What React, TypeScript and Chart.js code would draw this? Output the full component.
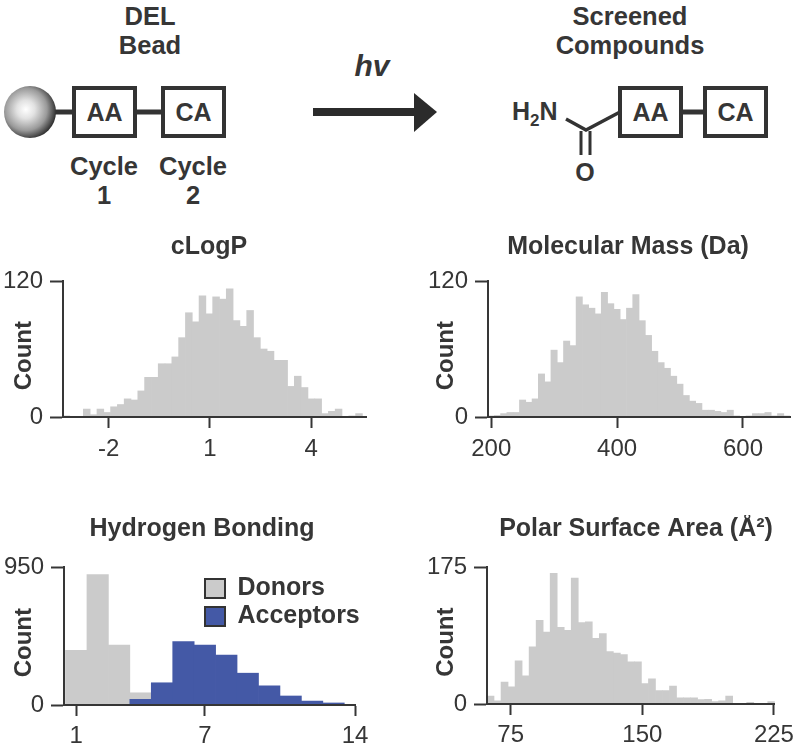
import React, { useEffect, useRef } from "react";
import { Chart, registerables } from "chart.js";

Chart.register(...registerables);

const FONT = '"Liberation Sans", Arial, sans-serif';
const INK = "#363636";
const GRAY = "#cbcbcb";
const BLUE = "#4459a6";

const cLogPCounts = [1, 0, 0, 7, 2, 7, 4, 9, 11, 16, 15, 23, 35, 35, 47, 47, 53, 70, 92, 84, 107, 91, 106, 104, 113, 85, 80, 94, 70, 60, 58, 50, 50, 27, 36, 26, 16, 16, 3, 5, 7, 0, 1, 3];
const massCounts = [1, 1.5, 3, 4, 4, 15, 13, 16, 38, 31, 59, 48, 67, 63, 106, 99, 96, 91, 110, 100, 95, 86, 96, 108, 85, 72, 58, 48, 43, 36, 29, 19, 14, 12, 6, 6, 5, 4, 6, 1, 0, 1, 3, 3, 4, 1, 3, 1];
const donorCounts = [377, 897, 413, 84, 0, 0, 0, 0, 0, 0, 0, 0, 0];
const acceptorCounts = [0, 0, 0, 39, 153, 436, 413, 343, 219, 132, 62, 27, 14];
const psaCounts = [10, 4, 28, 22, 55, 36, 73, 107, 92, 167, 98, 94, 161, 104, 105, 84, 90, 67, 65, 63, 54, 54, 26, 32, 17, 17, 23, 8, 8, 8, 5.5, 6, 3, 4, 10, 1, 0, 2, 1, 1, 3];

const cLogPTicks = [-2, 1, 4];
const massTicks = [200, 400, 600];
const hbondTicks = [1, 7, 14];
const psaTicks = [75, 150, 225];

type Panel = {
  title: string;
  series: { label: string; counts: number[]; color: string; order: number }[];
  firstEdge: number;
  binWidth: number;
  xMin: number;
  xMax: number;
  xTicks: number[];
  yMax: number;
  left: number;
  top: number;
  width: number;
  height: number;
  axisLeft: number;
  axisRight: number;
  axisTop: number;
  axisBottom: number;
  labelGap: number;
  titleX: number;
  countX: number;
  legendAt?: { left: number; top: number };
};

const panels: Panel[] = [
  {
    title: "cLogP",
    series: [{ label: "Count", counts: cLogPCounts, color: GRAY, order: 1 }],
    firstEdge: -3.352, binWidth: 0.2015, xMin: -3.35, xMax: 5.62, xTicks: cLogPTicks, yMax: 120,
    left: 0, top: 233, width: 416, height: 235,
    axisLeft: 63, axisRight: 366, axisTop: 281, axisBottom: 417, labelGap: 7, titleX: 209, countX: 24,
  },
  {
    title: "Molecular Mass (Da)",
    series: [{ label: "Count", counts: massCounts, color: GRAY, order: 1 }],
    firstEdge: 194.8, binWidth: 10, xMin: 194.8, xMax: 674.7, xTicks: massTicks, yMax: 120,
    left: 420, top: 233, width: 380, height: 235,
    axisLeft: 488, axisRight: 790, axisTop: 281, axisBottom: 417, labelGap: 7, titleX: 628, countX: 446,
  },
  {
    title: "Hydrogen Bonding",
    series: [
      { label: "Donors", counts: donorCounts, color: GRAY, order: 2 },
      { label: "Acceptors", counts: acceptorCounts, color: BLUE, order: 1 },
    ],
    firstEdge: 0.5, binWidth: 1, xMin: 0.43, xMax: 14, xTicks: hbondTicks, yMax: 950,
    left: 0, top: 515, width: 404, height: 241,
    axisLeft: 64, axisRight: 355, axisTop: 567, axisBottom: 705, labelGap: 6, titleX: 202, countX: 24,
    legendAt: { left: 202, top: 573 },
  },
  {
    title: "Polar Surface Area (Å²)",
    series: [{ label: "Count", counts: psaCounts, color: GRAY, order: 1 }],
    firstEdge: 61.5, binWidth: 4, xMin: 61.5, xMax: 225.5, xTicks: psaTicks, yMax: 175,
    left: 420, top: 515, width: 380, height: 241,
    axisLeft: 487, axisRight: 780, axisTop: 567, axisBottom: 704, labelGap: 6, titleX: 636, countX: 446,
  },
];

function HistPanel({ p }: { p: Panel }) {
  const ref = useRef<HTMLCanvasElement>(null);
  useEffect(() => {
    const titleLine = 28;
    const countLine = 28.8;
    // Puts the title and the legend where the figure has them, not where the layout stacks them.
    const placement = {
      id: "placement",
      beforeDraw(chart: any) {
        const cx = p.titleX - p.left;
        chart.titleBlock.left = cx - 300;
        chart.titleBlock.right = cx + 300;
        if (p.legendAt && chart.legend) {
          const { width, height } = chart.legend;
          chart.legend.left = p.legendAt.left - p.left;
          chart.legend.top = p.legendAt.top - p.top;
          chart.legend.right = chart.legend.left + width + 20;
          chart.legend.bottom = chart.legend.top + height + 20;
        }
      },
    };
    const chart = new Chart(ref.current as HTMLCanvasElement, {
      type: "bar",
      data: {
        datasets: p.series.map((s) => ({
          label: s.label,
          data: s.counts.map((y, i) => ({ x: p.firstEdge + p.binWidth * (i + 0.5), y })),
          backgroundColor: s.color,
          borderWidth: 0,
          barPercentage: 1,
          categoryPercentage: 1,
          grouped: false,
          order: s.order,
        })),
      },
      plugins: [placement],
      options: {
        animation: false,
        responsive: false,
        devicePixelRatio: 1,
        layout: {
          padding: {
            top: 0,
            left: 0,
            right: p.left + p.width - p.axisRight,
            bottom: 0,
          },
        },
        plugins: {
          tooltip: { enabled: false },
          title: {
            display: true,
            text: p.title,
            color: INK,
            font: { family: FONT, weight: "bold", size: 25, lineHeight: `${titleLine}px` },
            padding: { top: 0, bottom: p.axisTop - p.top - titleLine },
          },
          legend: {
            display: !!p.legendAt,
            position: "chartArea",
            align: "start",
            labels: {
              boxWidth: 20,
              boxHeight: 19,
              padding: 3,
              color: INK,
              font: { family: FONT, weight: "bold", size: 25 },
              generateLabels: () =>
                p.series.map((s) => ({
                  text: s.label,
                  fillStyle: s.color,
                  strokeStyle: "#333333",
                  lineWidth: 2,
                  fontColor: INK,
                })),
            },
          },
        },
        scales: {
          x: {
            type: "linear",
            min: p.xMin,
            max: p.xMax,
            offset: false,
            afterFit: (s: any) => {
              s.height = p.top + p.height - p.axisBottom;
            },
            afterBuildTicks: (s: any) => {
              s.ticks = p.xTicks.map((value) => ({ value }));
            },
            border: { display: true, color: INK, width: 2, z: 2 },
            grid: { offset: false, drawOnChartArea: false, drawTicks: true, tickLength: 11, tickColor: INK, tickWidth: 2, z: 2 },
            ticks: {
              autoSkip: false,
              maxRotation: 0,
              minRotation: 0,
              padding: p.labelGap,
              color: INK,
              font: { family: FONT, size: 24 },
              callback: (v: any) => String(v),
            },
          },
          y: {
            min: 0,
            max: p.yMax,
            afterFit: (s: any) => {
              s.width = p.axisLeft - p.left;
            },
            afterBuildTicks: (s: any) => {
              s.ticks = [{ value: 0 }, { value: p.yMax }];
            },
            border: { display: true, color: INK, width: 2, z: 2 },
            grid: { drawOnChartArea: false, drawTicks: true, tickLength: 13, tickColor: INK, tickWidth: 2, z: 2 },
            title: {
              display: true,
              text: "Count  ",
              color: INK,
              font: { family: FONT, weight: "bold", size: 24, lineHeight: `${countLine}px` },
              padding: { top: p.countX - p.left - countLine / 2, bottom: 0 },
            },
            ticks: {
              autoSkip: false,
              padding: 7,
              color: INK,
              font: { family: FONT, size: 24 },
              callback: (v: any) => String(v),
            },
          },
        },
      },
    } as any);
    return () => chart.destroy();
  }, [p]);
  return (
    <canvas
      ref={ref}
      width={p.width}
      height={p.height}
      style={{ position: "absolute", left: p.left, top: p.top, width: p.width, height: p.height }}
    />
  );
}

function Box({ x, w, label }: { x: number; w: number; label: string }) {
  return (
    <g>
      <rect x={x + 2} y={88} width={w - 4} height={48} fill="#fff" stroke="#333" strokeWidth={4} />
      <text x={x + w / 2} y={120.5} textAnchor="middle" fontSize={25} fontWeight="bold" fill={INK}>
        {label}
      </text>
    </g>
  );
}

function Heading({ x, y, children }: { x: number; y: number; children: React.ReactNode }) {
  return (
    <text x={x} y={y} textAnchor="middle" fontSize={25.5} fontWeight="bold" fill={INK}>
      {children}
    </text>
  );
}

function Schematic() {
  return (
    <svg
      width={800}
      height={220}
      viewBox="0 0 800 220"
      style={{ position: "absolute", left: 0, top: 0, fontFamily: FONT }}
    >
      <defs>
        <radialGradient id="bead" cx="42%" cy="45%" r="58%">
          <stop offset="0%" stopColor="#ffffff" />
          <stop offset="30%" stopColor="#e2e2e2" />
          <stop offset="70%" stopColor="#9a9a9a" />
          <stop offset="100%" stopColor="#333333" />
        </radialGradient>
      </defs>
      <Heading x={150} y={25}>DEL</Heading>
      <Heading x={150} y={54}>Bead</Heading>
      <line x1={54} y1={112} x2={74} y2={112} stroke="#333" strokeWidth={5} />
      <line x1={135} y1={112} x2={163} y2={112} stroke="#333" strokeWidth={5} />
      <circle cx={30} cy={112} r={26} fill="url(#bead)" />
      <Box x={72} w={65} label="AA" />
      <Box x={161} w={65} label="CA" />
      <Heading x={104} y={175}>Cycle</Heading>
      <Heading x={104} y={204}>1</Heading>
      <Heading x={193} y={175}>Cycle</Heading>
      <Heading x={193} y={204}>2</Heading>

      <text x={372} y={76} textAnchor="middle" fontSize={30} fontWeight="bold" fontStyle="italic" fill={INK}>
        hv
      </text>
      <rect x={313} y={108} width={103} height={8} fill="#2b2b2b" />
      <polygon points="414,93 437,112 414,132" fill="#2b2b2b" />

      <Heading x={630} y={25}>Screened</Heading>
      <Heading x={630} y={54}>Compounds</Heading>
      <text x={512} y={120} fontSize={25} fontWeight="bold" fill={INK}>
        H<tspan fontSize={17} dy={6}>2</tspan><tspan dy={-6}>N</tspan>
      </text>
      <polyline points="566,119 586,130 620,112" fill="none" stroke="#333" strokeWidth={3.5} />
      <line x1={581} y1={131} x2={581} y2={155} stroke="#333" strokeWidth={3} />
      <line x1={590} y1={131} x2={590} y2={155} stroke="#333" strokeWidth={3} />
      <text x={585} y={181} textAnchor="middle" fontSize={25} fontWeight="bold" fill={INK}>O</text>
      <line x1={680} y1={112} x2={706} y2={112} stroke="#333" strokeWidth={5} />
      <Box x={618} w={65} label="AA" />
      <Box x={703} w={65} label="CA" />
    </svg>
  );
}

export default function App() {
  return (
    <div
      style={{
        position: "absolute",
        left: 0,
        top: 0,
        width: 800,
        height: 756,
        overflow: "hidden",
        background: "#fff",
      }}
    >
      <Schematic />
      {panels.map((p) => (
        <HistPanel key={p.title} p={p} />
      ))}
    </div>
  );
}
